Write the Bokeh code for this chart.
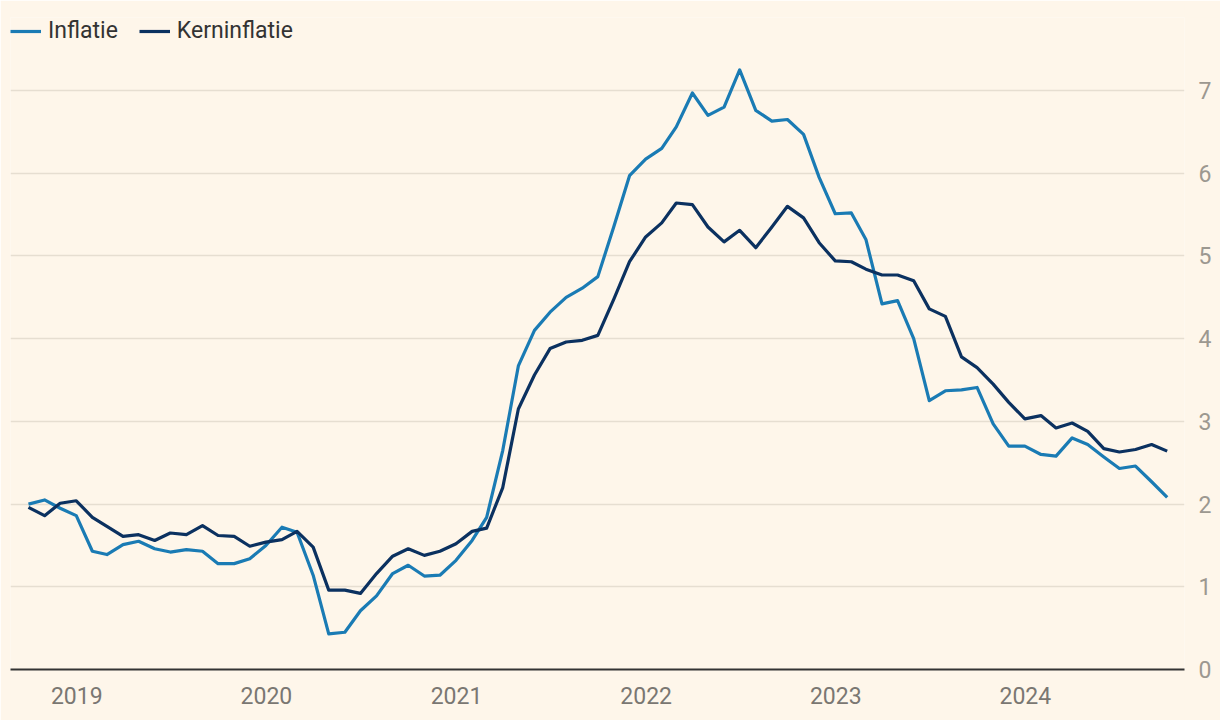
import pandas as pd
from bokeh.plotting import figure
from bokeh.models import Range1d, FixedTicker, DatetimeTickFormatter, Legend, LegendItem
from bokeh.embed import file_html
from bokeh.resources import INLINE

# Monthly data, Sep 2018 - Sep 2024 (year-on-year %, plotted at month end)
months = pd.date_range("2018-09-01", periods=73, freq="MS") + pd.offsets.MonthEnd(0)

inflatie = [
    2.00, 2.05, 1.95, 1.86, 1.43, 1.39, 1.51, 1.55, 1.46, 1.42,
    1.45, 1.43, 1.28, 1.28, 1.34, 1.50, 1.72, 1.66, 1.14, 0.43,
    0.45, 0.71, 0.89, 1.16, 1.26, 1.13, 1.14, 1.32, 1.56, 1.84,
    2.65, 3.67, 4.10, 4.32, 4.50, 4.61, 4.75, 5.36, 5.97, 6.17,
    6.30, 6.56, 6.97, 6.70, 6.80, 7.25, 6.76, 6.63, 6.65, 6.47,
    5.95, 5.51, 5.52, 5.20, 4.42, 4.46, 4.00, 3.25, 3.37, 3.38,
    3.41, 2.97, 2.70, 2.70, 2.60, 2.58, 2.80, 2.72, 2.57, 2.43,
    2.46, 2.27, 2.08,
]

kerninflatie = [
    1.96, 1.86, 2.01, 2.04, 1.84, 1.73, 1.61, 1.63, 1.56, 1.65,
    1.63, 1.74, 1.62, 1.61, 1.49, 1.54, 1.57, 1.67, 1.48, 0.96,
    0.96, 0.92, 1.16, 1.37, 1.46, 1.38, 1.43, 1.52, 1.67, 1.71,
    2.20, 3.15, 3.56, 3.88, 3.96, 3.98, 4.04, 4.48, 4.93, 5.23,
    5.40, 5.64, 5.62, 5.35, 5.17, 5.31, 5.10, 5.35, 5.60, 5.46,
    5.16, 4.94, 4.93, 4.84, 4.77, 4.77, 4.70, 4.36, 4.27, 3.78,
    3.65, 3.45, 3.23, 3.03, 3.07, 2.92, 2.98, 2.88, 2.67, 2.63,
    2.66, 2.72, 2.64,
]

series_names = ["Inflatie", "Kerninflatie"]
year_ticks = [2019, 2020, 2021, 2022, 2023, 2024]
y_ticks = [0, 1, 2, 3, 4, 5, 6, 7]

BG = "#fef6ea"
LIGHT = "#1a7bb4"
DARK = "#0b3160"
FONT = "Roboto"

x_start = months[0] - pd.Timedelta(days=34.6)
x_end = months[-1] + pd.Timedelta(days=33.3)

p = figure(
    width=1220, height=720,
    x_axis_type="datetime", y_axis_location="right",
    x_range=Range1d(x_start, x_end), y_range=Range1d(0, 7.883),
    output_backend="svg", toolbar_location=None,
    min_border_left=10, min_border_right=36, min_border_top=17, min_border_bottom=51,
    background_fill_color=BG, border_fill_color=BG, outline_line_color=None,
)

r1 = p.line(months, inflatie, line_color=LIGHT, line_width=3.2, line_join="round")
r2 = p.line(months, kerninflatie, line_color=DARK, line_width=3.2, line_join="round")

legend = Legend(
    items=[LegendItem(label=series_names[0], renderers=[r1]),
           LegendItem(label=series_names[1], renderers=[r2])],
    location="top_left", orientation="horizontal",
    margin=0, padding=0, spacing=21,
    glyph_width=31, glyph_height=26, label_height=26, label_standoff=7,
    label_text_font=FONT, label_text_font_size="23px", label_text_color="#333333",
    background_fill_alpha=0, border_line_color=None,
)
p.add_layout(legend)

# x axis
p.xaxis.ticker = FixedTicker(ticks=[pd.Timestamp(f"{y}-01-01").value / 1e6 for y in year_ticks])
p.xaxis.formatter = DatetimeTickFormatter(
    years="%Y", months="%Y", days="%Y", hours="%Y", minutes="%Y",
    seconds="%Y", milliseconds="%Y", microseconds="%Y",
)
p.xaxis.axis_line_color = "#333333"
p.xaxis.axis_line_width = 2
p.xaxis.major_tick_line_color = None
p.xaxis.minor_tick_line_color = None
p.xaxis.major_label_standoff = 11
p.xaxis.major_label_text_font = FONT
p.xaxis.major_label_text_font_size = "23px"
p.xaxis.major_label_text_color = "#7a7772"

# y axis
p.yaxis.ticker = FixedTicker(ticks=y_ticks)
p.yaxis.axis_line_color = None
p.yaxis.major_tick_line_color = None
p.yaxis.minor_tick_line_color = None
p.yaxis.major_label_standoff = 8
p.yaxis.major_label_text_font = FONT
p.yaxis.major_label_text_font_size = "23px"
p.yaxis.major_label_text_color = "#9c9890"

p.xgrid.grid_line_color = None
p.ygrid.grid_line_color = "#e6ded1"
p.ygrid.grid_line_width = 1.5

open("out.html", "w").write(file_html(p, INLINE))
